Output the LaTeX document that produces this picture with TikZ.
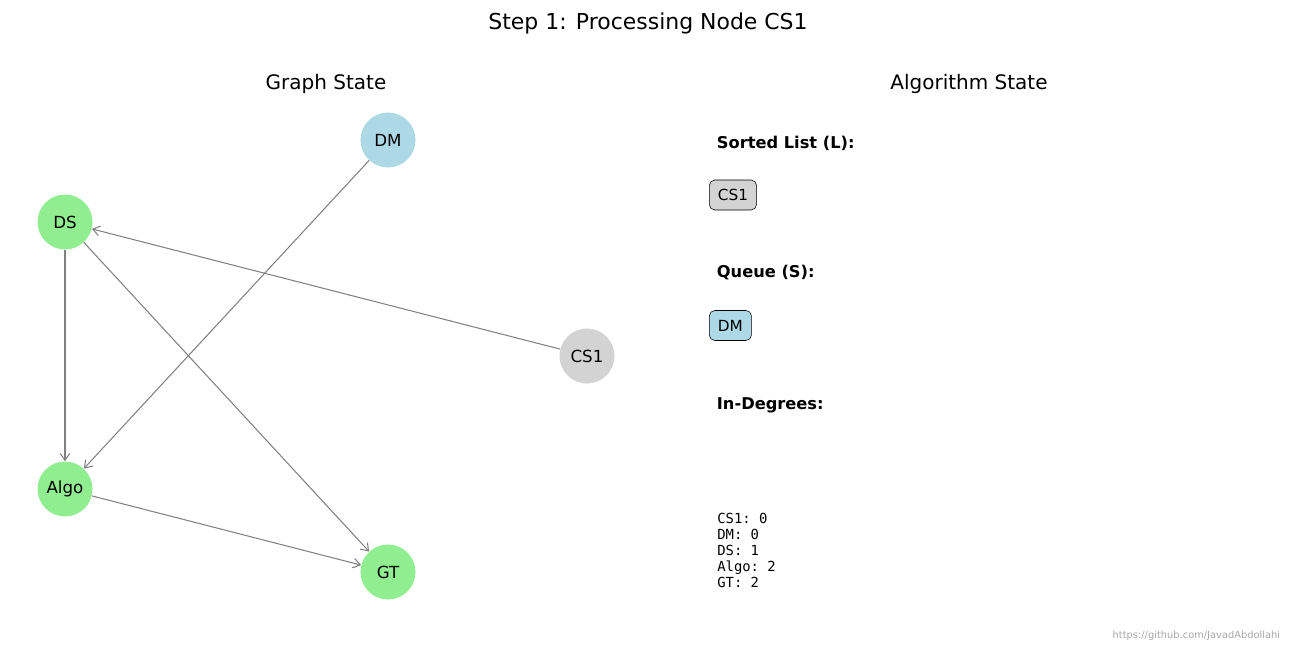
\documentclass[tikz,border=0pt]{standalone}
\usepackage{fontspec}
\setmainfont{DejaVu Sans}
\setmonofont{DejaVu Sans Mono}
\usetikzlibrary{arrows.meta}
\definecolor{lightgreen}{HTML}{90EE90}
\definecolor{lightblue}{HTML}{ADD8E6}
\definecolor{lightgraynode}{HTML}{D3D3D3}
\begin{document}
\begin{tikzpicture}[x=0.72pt,y=-0.72pt,
		vertex/.style={circle,minimum size=55*0.72pt,inner sep=0pt,font=\fontsize{12}{14}\selectfont},
		edge/.style={draw=gray,line width=0.75pt,-{Straight Barb[length=5pt,width=7pt]}},
		listbox/.style={draw=black,rounded corners=4pt,anchor=west,inner xsep=6.2pt,minimum height=30*0.72pt,font=\fontsize{11}{13}\selectfont},
		heading/.style={anchor=west,font=\fontsize{11.7}{14}\selectfont\bfseries}]
	\useasboundingbox (0,0) rectangle (1296,648);
	% titles
	\node (title) at (648,23) {\fontsize{15.8}{19}\selectfont Step 1: Processing Node CS1};
	\node (graphtitle) at (326,84) {\fontsize{14.4}{17}\selectfont Graph State};
	\node (algotitle) at (969,84) {\fontsize{14.4}{17}\selectfont Algorithm State};
	% graph
	\node[vertex,fill=lightblue] (DM) at (388,140) {DM};
	\node[vertex,fill=lightgreen] (DS) at (65,222) {DS};
	\node[vertex,fill=lightgraynode] (CS1) at (587,356) {CS1};
	\node[vertex,fill=lightgreen] (Algo) at (65,489) {Algo};
	\node[vertex,fill=lightgreen] (GT) at (388,572) {GT};
	\foreach \a/\b in {DM/Algo,DS/Algo,DS/GT,CS1/DS,Algo/GT}
		\draw[edge] (\a) -- (\b);
	% algorithm state
	\node[heading] (sortedlabel) at (712,143) {Sorted List (L):};
	\node[listbox,fill=lightgraynode] (sorted1) at (709,195) {CS1};
	\node[heading] (queuelabel) at (712,273) {Queue (S):};
	\node[listbox,fill=lightblue] (queue1) at (709,325.5) {DM};
	\node[heading] (degreelabel) at (712,405) {In-Degrees:};
	\node[anchor=north west,align=left,inner sep=0pt,font=\fontsize{10}{11.5}\ttfamily] (degrees) at (717,513) {CS1: 0\\DM: 0\\DS: 1\\Algo: 2\\GT: 2};
	\node[anchor=east,text=gray!70,font=\fontsize{7.1}{8}\selectfont] (credit) at (1285,636) {https://github.com/JavadAbdollahi};
\end{tikzpicture}
\end{document}
